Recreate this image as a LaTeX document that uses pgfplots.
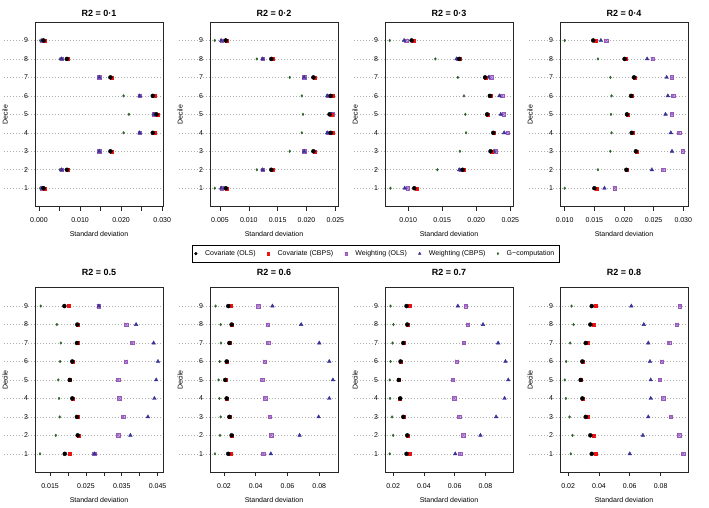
\documentclass[border=0pt]{standalone}
\usepackage{fontspec}
\setmainfont{Liberation Sans}
\usepackage{pgfplots}
\usepackage{pgfplotstable}
\pgfplotsset{compat=1.18}

\definecolor{purp}{RGB}{150,90,185}
\definecolor{purpfill}{RGB}{210,180,228}
\definecolor{tblue}{RGB}{55,50,150}
\definecolor{tgreen}{RGB}{45,100,45}
\definecolor{tred}{RGB}{235,20,20}

% boxed cross, like R's pch 7
\pgfdeclareplotmark{sqx}{%
  \pgfpathrectangle{\pgfqpoint{-\pgfplotmarksize}{-\pgfplotmarksize}}{\pgfqpoint{2\pgfplotmarksize}{2\pgfplotmarksize}}%
  \pgfusepathqfillstroke
  \pgfpathmoveto{\pgfqpoint{-\pgfplotmarksize}{-\pgfplotmarksize}}%
  \pgfpathlineto{\pgfqpoint{\pgfplotmarksize}{\pgfplotmarksize}}%
  \pgfpathmoveto{\pgfqpoint{-\pgfplotmarksize}{\pgfplotmarksize}}%
  \pgfpathlineto{\pgfqpoint{\pgfplotmarksize}{-\pgfplotmarksize}}%
  \pgfusepathqstroke
}

% d = decile; cols, cbps = covariate adjustment; wols, wcbps = weighting; gc = G-computation
\pgfplotstableread{
d cols cbps wols wcbps gc
1 0.0011 0.0013 0.0007 0.0007 0.0003
2 0.0068 0.0070 0.0055 0.0055 0.0051
3 0.0174 0.0178 0.0147 0.0147 0.0146
4 0.0277 0.0282 0.0245 0.0245 0.0206
5 0.0286 0.0290 0.0280 0.0280 0.0219
6 0.0277 0.0282 0.0245 0.0245 0.0206
7 0.0174 0.0178 0.0147 0.0147 0.0146
8 0.0068 0.0070 0.0055 0.0055 0.0051
9 0.0011 0.0013 0.0007 0.0007 0.0003
}\tA
\pgfplotstableread{
d cols cbps wols wcbps gc
1 0.0060 0.0062 0.0053 0.0052 0.0041
2 0.0139 0.0142 0.0124 0.0124 0.0114
3 0.0212 0.0214 0.0196 0.0196 0.0171
4 0.0242 0.0245 0.0237 0.0236 0.0192
5 0.0240 0.0243 0.0245 0.0244 0.0194
6 0.0242 0.0245 0.0237 0.0236 0.0192
7 0.0212 0.0214 0.0196 0.0196 0.0171
8 0.0139 0.0142 0.0124 0.0124 0.0114
9 0.0060 0.0062 0.0053 0.0052 0.0041
}\tB
\pgfplotstableread{
d cols cbps wols wcbps gc
1 0.0109 0.0112 0.0099 0.0095 0.0074
2 0.0180 0.0182 0.0177 0.0175 0.0143
3 0.0221 0.0222 0.0229 0.0226 0.0176
4 0.0225 0.0226 0.0246 0.0241 0.0185
5 0.0216 0.0217 0.0240 0.0236 0.0184
6 0.0220 0.0221 0.0238 0.0234 0.0182
7 0.0213 0.0214 0.0222 0.0218 0.0173
8 0.0175 0.0176 0.0173 0.0171 0.0140
9 0.0105 0.0108 0.0097 0.0094 0.0073
}\tC
\pgfplotstableread{
d cols cbps wols wcbps gc
1 0.0150 0.0154 0.0184 0.0167 0.0100
2 0.0204 0.0205 0.0266 0.0247 0.0156
3 0.0220 0.0221 0.0299 0.0281 0.0177
4 0.0213 0.0214 0.0293 0.0279 0.0179
5 0.0205 0.0206 0.0281 0.0270 0.0178
6 0.0212 0.0213 0.0283 0.0274 0.0179
7 0.0217 0.0218 0.0281 0.0272 0.0177
8 0.0201 0.0203 0.0248 0.0239 0.0156
9 0.0148 0.0152 0.0170 0.0161 0.0100
}\tD
\pgfplotstableread{
d cols cbps wols wcbps gc
1 0.0191 0.0205 0.0273 0.0274 0.0122
2 0.0227 0.0229 0.0340 0.0374 0.0166
3 0.0225 0.0226 0.0354 0.0423 0.0177
4 0.0212 0.0213 0.0343 0.0441 0.0175
5 0.0205 0.0206 0.0340 0.0446 0.0173
6 0.0212 0.0213 0.0361 0.0451 0.0178
7 0.0225 0.0226 0.0379 0.0439 0.0180
8 0.0226 0.0227 0.0362 0.0390 0.0169
9 0.0190 0.0202 0.0285 0.0286 0.0124
}\tE
\pgfplotstableread{
d cols cbps wols wcbps gc
1 0.0227 0.0244 0.0448 0.0495 0.0143
2 0.0248 0.0249 0.0497 0.0676 0.0175
3 0.0234 0.0236 0.0488 0.0796 0.0179
4 0.0217 0.0219 0.0459 0.0863 0.0171
5 0.0208 0.0210 0.0442 0.0886 0.0166
6 0.0217 0.0219 0.0455 0.0863 0.0173
7 0.0234 0.0236 0.0478 0.0800 0.0181
8 0.0248 0.0249 0.0474 0.0686 0.0179
9 0.0227 0.0244 0.0417 0.0505 0.0147
}\tF
\pgfplotstableread{
d cols cbps wols wcbps gc
1 0.0287 0.0305 0.0637 0.0604 0.0178
2 0.0292 0.0293 0.0656 0.0768 0.0200
3 0.0266 0.0267 0.0630 0.0870 0.0193
4 0.0246 0.0244 0.0597 0.0925 0.0180
5 0.0237 0.0233 0.0589 0.0949 0.0178
6 0.0248 0.0246 0.0615 0.0931 0.0183
7 0.0266 0.0267 0.0659 0.0883 0.0196
8 0.0292 0.0293 0.0687 0.0785 0.0202
9 0.0287 0.0305 0.0672 0.0621 0.0183
}\tG
\pgfplotstableread{
d cols cbps wols wcbps gc
1 0.0353 0.0381 0.0947 0.0600 0.0217
2 0.0344 0.0364 0.0921 0.0685 0.0228
3 0.0314 0.0324 0.0866 0.0720 0.0209
4 0.0292 0.0296 0.0816 0.0736 0.0185
5 0.0281 0.0284 0.0795 0.0736 0.0178
6 0.0292 0.0296 0.0807 0.0731 0.0187
7 0.0314 0.0324 0.0855 0.0720 0.0213
8 0.0344 0.0364 0.0905 0.0691 0.0235
9 0.0353 0.0381 0.0925 0.0610 0.0222
}\tH

\tikzset{gridl/.style={gray!65, dash pattern=on 0.7pt off 2.3pt, line width=0.55pt}}

\pgfplotsset{
  /pgf/number format/assume math mode=true,
  covols/.style={only marks, mark=*, mark size=2pt, black, forget plot},
  covcbps/.style={only marks, mark=square*, mark size=1.5pt, tred, forget plot},
  wols/.style={only marks, mark=sqx, mark size=1.7pt, mark options={draw=purp, fill=purpfill, line width=0.5pt}, forget plot},
  wcbps/.style={only marks, mark=triangle*, mark size=2.1pt, tblue, forget plot},
  gcomp/.style={only marks, mark=diamond*, mark size=1.3pt, tgreen, forget plot},
  panel/.style={
    scale only axis, width=128pt, height=184.7pt, anchor=south west,
    ymin=0, ymax=10, ytick={1,...,9},
    ytick style={draw=none},
    scaled x ticks=false,
    xtick pos=bottom, tick align=outside, major tick length=4pt,
    xtick style={black!85, line width=0.6pt},
    axis line style={black!85, line width=0.7pt},
    clip=false,
    tick label style={font=\fontsize{7}{8}\selectfont},
    yticklabel style={anchor=center, xshift=-5pt},
    xticklabel style={anchor=center},
    xticklabel shift=9.5pt,
    label style={font=\fontsize{7}{8}\selectfont},
    xlabel={Standard deviation}, ylabel={Decile},
    xlabel style={at={(axis description cs:0.5,0)}, anchor=center, yshift=-27.5pt},
    ylabel style={at={(axis description cs:-0.234,0.5)}, anchor=center},
    title style={at={(axis description cs:0.5,1)}, anchor=center, font=\bfseries\fontsize{9}{10}\selectfont},
  },
  toprow/.style={panel, title style={yshift=2.3pt}},
  botrow/.style={panel, title style={yshift=9pt}},
}

\newcommand{\panel}[1]{%
  \pgfplotsinvokeforeach{1,...,9}{\draw[gridl] (rel axis cs:-0.24,{##1/10}) -- (rel axis cs:1,{##1/10});}
  \addplot[gcomp] table[x=gc, y=d] {#1};
  \addplot[wols] table[x=wols, y=d] {#1};
  \addplot[wcbps] table[x=wcbps, y=d] {#1};
  \addplot[covcbps] table[x=cbps, y=d] {#1};
  \addplot[covols] table[x=cols, y=d] {#1};
}

\begin{document}
\begin{tikzpicture}
\path[use as bounding box] (0,0) rectangle (709pt,508pt);

\begin{axis}[toprow, at={(35pt,301.3pt)}, title={R2 = 0·1},
  xmin=-0.00097, xmax=0.0302,
  xtick={0,0.005,0.01,0.015,0.02,0.025,0.03},
  xticklabels={0.000,,0.010,,0.020,,0.030},
  legend columns=5,
  legend style={at={(axis description cs:2.660,-0.254)}, anchor=center,
    draw=black, line width=0.5pt, inner xsep=2.5pt, inner ysep=3.5pt,
    font=\fontsize{7}{8}\selectfont,
    /tikz/every odd column/.append style={column sep=6pt},
    /tikz/every even column/.append style={column sep=9.5pt}},
  legend image code/.code={\draw[#1] plot coordinates {(0pt,0pt)};},
]
\panel{\tA}
\addlegendimage{only marks, mark=*, mark size=1.3pt, black}
\addlegendentry{Covariate (OLS)}
\addlegendimage{only marks, mark=square*, mark size=1.2pt, tred}
\addlegendentry{Covariate (CBPS)}
\addlegendimage{only marks, mark=sqx, mark size=1.3pt, mark options={draw=purp, fill=purpfill, line width=0.4pt}}
\addlegendentry{Weighting (OLS)}
\addlegendimage{only marks, mark=triangle*, mark size=1.4pt, tblue}
\addlegendentry{Weighting (CBPS)}
\addlegendimage{only marks, mark=diamond*, mark size=1.1pt, tgreen}
\addlegendentry{G−computation}
\end{axis}

\begin{axis}[toprow, at={(210pt,301.3pt)}, title={R2 = 0·2},
  xmin=0.00327, xmax=0.02547,
  xtick={0.005,0.01,0.015,0.02,0.025},
  xticklabels={0.005,0.010,0.015,0.020,0.025}]
\panel{\tB}
\end{axis}

\begin{axis}[toprow, at={(385pt,301.3pt)}, title={R2 = 0·3},
  xmin=0.0066, xmax=0.0254,
  xtick={0.01,0.015,0.02,0.025},
  xticklabels={0.010,0.015,0.020,0.025}]
\panel{\tC}
\end{axis}

\begin{axis}[toprow, at={(560pt,301.3pt)}, title={R2 = 0·4},
  xmin=0.0092, xmax=0.0308,
  xtick={0.01,0.015,0.02,0.025,0.03},
  xticklabels={0.010,0.015,0.020,0.025,0.030}]
\panel{\tD}
\end{axis}

\begin{axis}[botrow, at={(35pt,35.7pt)}, title={R2 = 0.5},
  xmin=0.0108, xmax=0.0465,
  xtick={0.015,0.02,0.025,0.03,0.035,0.04,0.045},
  xticklabels={0.015,,0.025,,0.035,,0.045}]
\panel{\tE}
\end{axis}

\begin{axis}[botrow, at={(210pt,35.7pt)}, title={R2 = 0.6},
  xmin=0.0112, xmax=0.0918,
  xtick={0.02,0.04,0.06,0.08},
  xticklabels={0.02,0.04,0.06,0.08}]
\panel{\tF}
\end{axis}

\begin{axis}[botrow, at={(385pt,35.7pt)}, title={R2 = 0.7},
  xmin=0.0147, xmax=0.0980,
  xtick={0.02,0.04,0.06,0.08},
  xticklabels={0.02,0.04,0.06,0.08}]
\panel{\tG}
\end{axis}

\begin{axis}[botrow, at={(560pt,35.7pt)}, title={R2 = 0.8},
  xmin=0.0147, xmax=0.0978,
  xtick={0.02,0.04,0.06,0.08},
  xticklabels={0.02,0.04,0.06,0.08}]
\panel{\tH}
\end{axis}
\end{tikzpicture}
\end{document}
